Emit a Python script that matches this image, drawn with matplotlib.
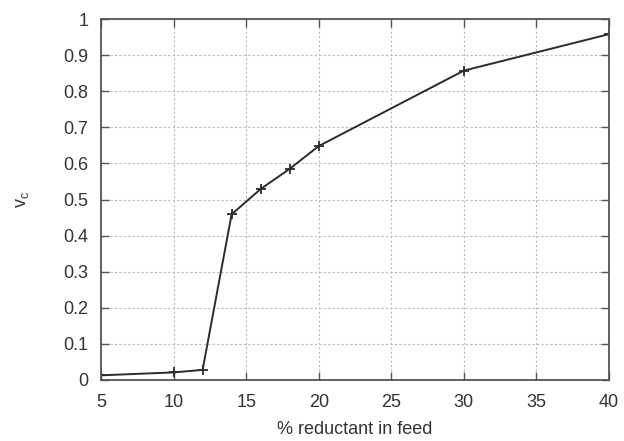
import numpy as np
import matplotlib.pyplot as plt

plt.rcParams['font.family'] = ['Liberation Sans', 'DejaVu Sans']

# data
reductant = [5, 10, 12, 14, 16, 18, 20, 30, 40]
vc = [0.013, 0.021, 0.028, 0.459, 0.529, 0.585, 0.648, 0.857, 0.958]

xticks = [5, 10, 15, 20, 25, 30, 35, 40]
yticks = [0, 0.1, 0.2, 0.3, 0.4, 0.5, 0.6, 0.7, 0.8, 0.9, 1]
ytick_labels = ['0', '0.1', '0.2', '0.3', '0.4', '0.5', '0.6', '0.7', '0.8', '0.9', '1']

fig = plt.figure(figsize=(6.24, 4.41), dpi=100)
ax = fig.add_axes([101 / 624, 1 - 380 / 441, 508 / 624, 361 / 441])

ax.plot(reductant, vc, color='#2b2b2b', linewidth=1.4, marker='+',
        markersize=7, markeredgewidth=1.3)

ax.set_xlim(5, 40)
ax.set_ylim(0, 1)
ax.set_xticks(xticks)
ax.set_yticks(yticks)
ax.set_yticklabels(ytick_labels)

ax.grid(True, color='#bbbbbb', linestyle=(0, (2, 2)), linewidth=0.8)
ax.tick_params(direction='in', top=True, right=True, length=6,
               width=1, color='#555555', labelsize=13, labelcolor='#333333')
ax.tick_params(axis='x', pad=10)
ax.tick_params(axis='y', pad=9)
for s in ax.spines.values():
    s.set_color('#555555')
    s.set_linewidth(1.3)

ax.set_xlabel('% reductant in feed', fontsize=13, color='#333333', labelpad=7)
ax.set_ylabel(r'v$_\mathregular{c}$', fontsize=13, color='#333333', labelpad=23)

fig.savefig('out.png', dpi=100)
